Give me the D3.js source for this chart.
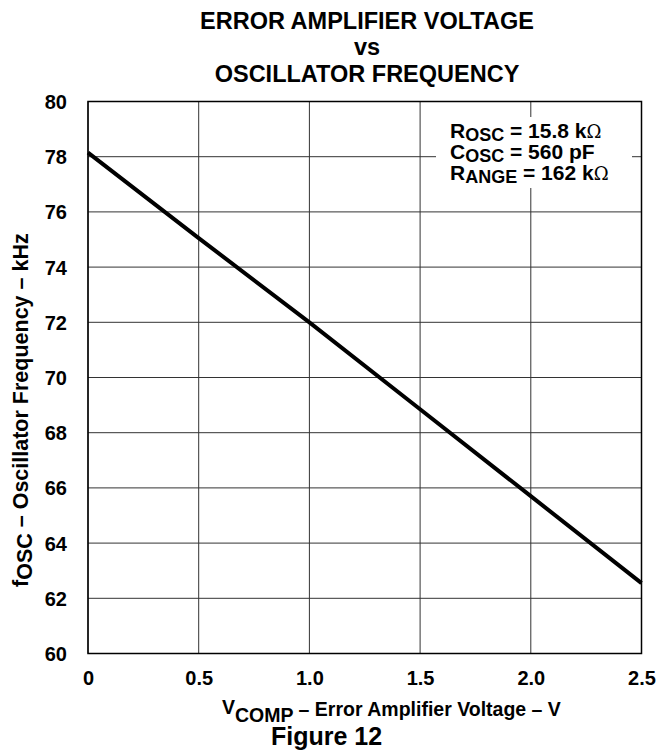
<!DOCTYPE html>
<html><head><meta charset="utf-8">
<script src="https://cdn.jsdelivr.net/npm/d3@7/dist/d3.min.js"></script>
<style>
body{margin:0;background:#fff;}
text{font-family:"Liberation Sans",Arial,Helvetica,sans-serif;font-weight:bold;fill:#000;}
</style></head>
<body><svg id="c" width="657" height="754"></svg>
<script>
const xValues = [0, 0.5, 1.0, 1.5, 2.0, 2.5];
const freqValues = [78.15, 75.05, 72.0, 68.85, 65.7, 62.55];
const xTicks = [0, 0.5, 1.0, 1.5, 2.0, 2.5];
const xTickLabels = ["0", "0.5", "1.0", "1.5", "2.0", "2.5"];
const yTicks = [60, 62, 64, 66, 68, 70, 72, 74, 76, 78, 80];
const titleLines = ["ERROR AMPLIFIER VOLTAGE", "vs", "OSCILLATOR FREQUENCY"];
const legendLines = [["R","OSC"," = 15.8 k","\u03A9"],["C","OSC"," = 560 pF",""],["R","ANGE"," = 162 k","\u03A9"]];

const svg = d3.select("#c");
const L=88, R=641.5, T=101.5, B=653.5;
const x = d3.scaleLinear().domain([0,2.5]).range([L,R]);
const y = d3.scaleLinear().domain([60,80]).range([B,T]);

// grid
const g = svg.append("g");
g.selectAll("line.h").data(yTicks).join("line")
  .attr("x1",L).attr("x2",R).attr("y1",d=>y(d)).attr("y2",d=>y(d))
  .attr("stroke","#333").attr("stroke-width",1);
g.selectAll("line.v").data(xTicks).join("line")
  .attr("y1",T).attr("y2",B).attr("x1",d=>x(d)).attr("x2",d=>x(d))
  .attr("stroke","#333").attr("stroke-width",1);
svg.append("rect").attr("x",L).attr("y",T).attr("width",R-L).attr("height",B-T)
  .attr("fill","none").attr("stroke","#000").attr("stroke-width",1.5);

// legend background
svg.append("rect").attr("x",436).attr("y",117).attr("width",196).attr("height",71).attr("fill","#fff");
const lg = svg.append("g");
legendLines.forEach((ln,i)=>{
  const t = lg.append("text").attr("x",450).attr("y",137.5+i*21).style("font-size","21px");
  t.append("tspan").text(ln[0]);
  t.append("tspan").attr("dy",3).style("font-size","18px").text(ln[1]);
  t.append("tspan").attr("dy",-3).text(ln[2]);
  if (ln[3]) t.append("tspan").style("font-weight","normal").style("font-family","'DejaVu Serif',serif").style("font-size","18px").text(ln[3]);
});

// data line
svg.append("path").datum(xValues.map((v,i)=>[v,freqValues[i]]))
  .attr("d",d3.line().x(d=>x(d[0])).y(d=>y(d[1])))
  .attr("fill","none").attr("stroke","#000").attr("stroke-width",4);

// y axis labels
const ya = d3.axisLeft(y).tickValues(yTicks).tickSize(0).tickPadding(0);
const yg = svg.append("g").attr("transform",`translate(${L-21},0)`).call(ya);
yg.select(".domain").remove();
yg.selectAll("text").style("font-size","20px").attr("font-family",null).attr("dy","0.35em");

// x axis labels
const xa = d3.axisBottom(x).tickValues(xTicks).tickFormat((d,i)=>xTickLabels[i]).tickSize(0).tickPadding(0);
const xg = svg.append("g").attr("transform",`translate(0,${B+17})`).call(xa);
xg.select(".domain").remove();
xg.selectAll("text").style("font-size","20px").attr("font-family",null).attr("dy","0.71em");

// title
svg.selectAll("text.title").data(titleLines).join("text")
  .attr("x",367).attr("y",(d,i)=>[29,55,82][i]).attr("text-anchor","middle")
  .style("font-size","23.5px").text(d=>d);

// x axis title
const xt = svg.append("text").attr("x",222).attr("y",714).style("font-size","19.5px");
xt.append("tspan").text("V");
xt.append("tspan").attr("dy",8).text("COMP");
xt.append("tspan").attr("dy",-6).text(" \u2013 Error Amplifier Voltage \u2013 V");

svg.append("text").attr("x",271).attr("y",745).style("font-size","25px").text("Figure 12");

// y axis title
const yt = svg.append("text").attr("transform","translate(28,587) rotate(-90)").style("font-size","21.5px");
yt.append("tspan").text("f");
yt.append("tspan").attr("dy",4).text("OSC");
yt.append("tspan").attr("dy",-4).text(" \u2013 Oscillator Frequency \u2013 kHz");
</script></body></html>
